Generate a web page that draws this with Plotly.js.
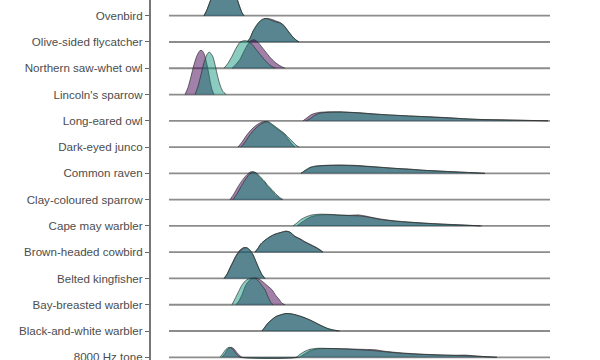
<!DOCTYPE html>
<html>
<head>
<meta charset="utf-8">
<script src="https://cdn.plot.ly/plotly-3.0.1.min.js"></script>
<style>html,body{margin:0;padding:0;background:#fff;}#chart{width:600px;height:360px;}</style>
</head>
<body>
<div id="chart"></div>
<script>
// Categories, top to bottom
const categories = ["Ovenbird","Olive-sided flycatcher","Northern saw-whet owl","Lincoln's sparrow","Long-eared owl","Dark-eyed junco","Common raven","Clay-coloured sparrow","Cape may warbler","Brown-headed cowbird","Belted kingfisher","Bay-breasted warbler","Black-and-white warbler","8000 Hz tone"];
const seriesNames = ["Group A", "Group B"]; // purple, teal
const gridRange = [0, 381];

// Density curves (x, height) per category, purple (A) and teal (B)
const ovenbirdXA = [35,38,41,44,47,51,55,59,63,67,70,73,75];
const ovenbirdHA = [0,6,14,22,30,36,38,36,30,20,11,3,0];
const ovenbirdXB = [35,38,41,44,47,51,55,59,63,67,70,73,75];
const ovenbirdHB = [0,6,14,22,30,36,38,36,30,20,11,3,0];

const oliveXA = [78,81,84,87,90,93,96,99,103,107,111,115,119,123,127,130];
const oliveHA = [0,3.5,10.5,15.5,19.5,22,23.5,23.5,22.5,21,19.5,16.5,11,6,2,0];
const oliveXB = [78,81,84,87,90,93,96,99,103,107,111,115,119,123,127,130];
const oliveHB = [0,4,11,16,20,22.5,23.5,23,21.5,20,19,16,11,6,2,0];

const sawwhetXA = [63,67,71,76,81,85,89,93,97,101,106,111,116];
const sawwhetHA = [0,4,9,19,27,28.6,26,21,16,11,6,2.5,0];
const sawwhetXB = [55,59,63,67,71,75,79,83,87,91,96,101,106];
const sawwhetHB = [0,5,12,20,26,27.6,27,24,19,14,8,3,0];

const lincolnXA = [16,19,22,25,28,31,33,35,37,39,41,43,45];
const lincolnHA = [0,7,18,30,39,44,44,41,34,25,14,5,0];
const lincolnXB = [26,29,32,35,38,40,42,44,46,48,50,52,54,57];
const lincolnHB = [0,8,20,32,40,42.4,41,37.5,30,21,13,7,3,0];

const longearedXA = [134,138,142,146,151,161,171,181,191,201,211,226,241,261,281,296,311,331,351,379];
const longearedHA = [0,3,6,7.5,8.5,9,9,8.5,8,7.2,6.4,5.5,4.8,4,3,2,1.4,1,0.6,0];
const longearedXB = [137,141,145,149,153,161,171,181,191,201,211,226,241,261,281,296,311,331,351,379];
const longearedHB = [0,2,5,7,8,8.5,8.7,8.4,7.8,7,6.4,5.6,4.8,3.8,2.8,2,1.3,0.9,0.5,0];

const juncoXA = [69,73,77,81,85,89,93,96,99,103,107,111,115,119,123,126];
const juncoHA = [0,5,11,16,20,23,25,25.5,25,22,19,16,13,8,3,0];
const juncoXB = [72,76,80,84,88,92,96,99,103,107,111,115,119,123,127,130];
const juncoHB = [0,5,11,16,20,23,25,25.5,23,20,17,14,10,6,2,0];

const ravenXA = [132,136,141,146,156,171,186,196,211,226,241,256,271,286,301,316];
const ravenHA = [0,2.5,5.5,7,8,8.4,8,7.3,6.2,5,4.2,3,2.3,1.5,0.8,0];
const ravenXB = [132,136,141,146,156,171,186,196,211,226,241,256,271,286,301,316];
const ravenHB = [0,3,6,7.2,7.8,8,7.6,7,6,5,4,3,2.2,1.5,0.8,0];

const clayXA = [61,65,69,73,77,81,84,87,91,95,99,103,107,111,113];
const clayHA = [0,6,13,19,24,27.5,28,26.5,22,18,13,8.5,4,1,0];
const clayXB = [64,68,72,76,80,84,87,91,95,99,103,107,111,114];
const clayHB = [0,6,13,19.5,25,27.5,27,23,19,14,10,5.5,2,0];

const capemayXA = [128,132,137,143,151,161,171,181,189,196,203,211,226,241,256,271,286,301,313];
const capemayHA = [0,3,6.5,9.5,11,11.2,10.8,10.6,11,10,8.5,7,5,3.8,2.8,2,1.3,0.6,0];
const capemayXB = [124,128,132,137,143,151,161,171,181,191,201,211,226,241,256,271,286,301,311];
const capemayHB = [0,3,6.5,9,11,11.7,11.5,10.8,10.3,10,8.5,6.5,4.8,3.6,2.6,1.8,1.1,0.5,0];

const cowbirdXA = [86,89,92,96,101,106,111,117,121,126,131,136,141,146,151,154];
const cowbirdHA = [0,4,8.5,12,15.5,18,19.5,21,20,16,13.5,10.5,8,5.5,2.5,0];
const cowbirdXB = [86,89,92,96,101,106,111,117,121,126,131,136,141,146,151,154];
const cowbirdHB = [0,4,8.5,12,15.5,18,19.5,21,20,15.5,13,10,7.5,5,2,0];

const kingfisherXA = [55,58,61,64,67,71,75,78,81,84,87,90,93,96];
const kingfisherHA = [0,4.5,11,17,23,28.5,31,30.5,28,23.5,16.5,9.5,3.5,0];
const kingfisherXB = [55,58,61,64,67,71,75,78,81,84,87,90,93,96];
const kingfisherHB = [0,4,10,16,22,27.5,30.5,30.7,28.5,24,17,10,4,0];

const baybreastedXA = [67,70,73,76,79,82,85,88,91,95,99,103,107,110,113,116];
const baybreastedHA = [0,4,10,18,23,25.5,26.5,26.5,25,22,18.5,15,9,5.5,1.5,0];
const baybreastedXB = [63,66,69,72,75,78,81,84,87,90,93,96,99,102,104];
const baybreastedHB = [0,6,12,18,22.5,25,26.3,26.7,26,23,19,15,8,2,0];

const blackwhiteXA = [93,96,99,103,107,111,117,123,129,135,141,147,153,159,165,169];
const blackwhiteHA = [0,4,8,11.5,14.5,16,17.5,17,15.5,13.5,11,8,5,2.3,0.7,0];
const blackwhiteXB = [93,96,99,103,107,111,117,123,129,135,141,147,153,159,165,171];
const blackwhiteHB = [0,4,8,11.5,14.5,16,17.5,17,15.5,13.5,11,8,5,2.5,1,0];

const toneXA = [53,56,59,62,65,68,71,73,130,135,141,149,161,176,191,206,216,231,251,271,286,296,311,328];
const toneHA = [0,4,8.5,10,8.5,4.5,1.5,0,0,3,6.5,8.5,8.8,8.5,8,7.5,6,4.5,3.2,2.4,2,2.2,1,0];
const toneXB = [51,54,57,60,63,66,69,71,127,131,136,141,149,161,176,191,206,221,236,251,266,281,296,311,328];
const toneHB = [0,4,8,10,9,5,1.5,0,0,3,6,8,9,8.8,8.3,7.5,6.5,5,3.8,3,2.4,2,1.6,0.9,0];

const curvesA = [[ovenbirdXA,ovenbirdHA],[oliveXA,oliveHA],[sawwhetXA,sawwhetHA],[lincolnXA,lincolnHA],[longearedXA,longearedHA],[juncoXA,juncoHA],[ravenXA,ravenHA],[clayXA,clayHA],[capemayXA,capemayHA],[cowbirdXA,cowbirdHA],[kingfisherXA,kingfisherHA],[baybreastedXA,baybreastedHA],[blackwhiteXA,blackwhiteHA],[toneXA,toneHA]];
const curvesB = [[ovenbirdXB,ovenbirdHB],[oliveXB,oliveHB],[sawwhetXB,sawwhetHB],[lincolnXB,lincolnHB],[longearedXB,longearedHB],[juncoXB,juncoHB],[ravenXB,ravenHB],[clayXB,clayHB],[capemayXB,capemayHB],[cowbirdXB,cowbirdHB],[kingfisherXB,kingfisherHB],[baybreastedXB,baybreastedHB],[blackwhiteXB,blackwhiteHB],[toneXB,toneHB]];

// Style
const ridgeScale = 1 / 26.27;
const fillA = "rgba(68,1,84,0.5)";
const fillB = "rgba(0,140,113,0.45)";
const outline = "rgba(45,45,45,0.85)";
const n = categories.length;

const traces = [];
categories.forEach((cat, i) => {
  const base = n - 1 - i;
  traces.push({
    x: gridRange, y: [base, base], mode: "lines", type: "scatter",
    line: {color: "#8c8c8c", width: 1.8}, hoverinfo: "skip", showlegend: false
  });
  [[curvesA[i], fillA, seriesNames[0]], [curvesB[i], fillB, seriesNames[1]]].forEach(([c, col, nm]) => {
    traces.push({
      x: c[0], y: c[1].map(h => base + h * ridgeScale),
      type: "scatter", mode: "lines", fill: "toself", fillcolor: col, name: nm,
      line: {color: outline, width: 0.8, shape: "spline", smoothing: 0.6},
      showlegend: false, hoverinfo: "x+name"
    });
  });
});

const layout = {
  width: 600, height: 360,
  margin: {l: 151, r: 0, t: 0, b: 0, pad: 0},
  paper_bgcolor: "#fff", plot_bgcolor: "#fff",
  showlegend: false,
  font: {family: "Liberation Sans, Arial, sans-serif", size: 11.6, color: "#4d4d4d"},
  xaxis: {range: [-18, 431], showgrid: false, zeroline: false, showticklabels: false, ticks: "", showline: false},
  yaxis: {
    range: [-0.103, 13.598], showgrid: false, zeroline: false,
    tickmode: "array", tickvals: categories.map((c, i) => n - 1 - i), ticktext: categories,
    ticks: "outside", ticklen: 4, tickwidth: 1, tickcolor: "#666",
    ticklabeloverflow: "allow",
    showline: true, linecolor: "#777", linewidth: 2,
    tickfont: {family: "Liberation Sans, Arial, sans-serif", size: 11.6, color: "#4d4d4d"}
  }
};

Plotly.newPlot("chart", traces, layout, {displayModeBar: false, staticPlot: true});
</script>
</body>
</html>
